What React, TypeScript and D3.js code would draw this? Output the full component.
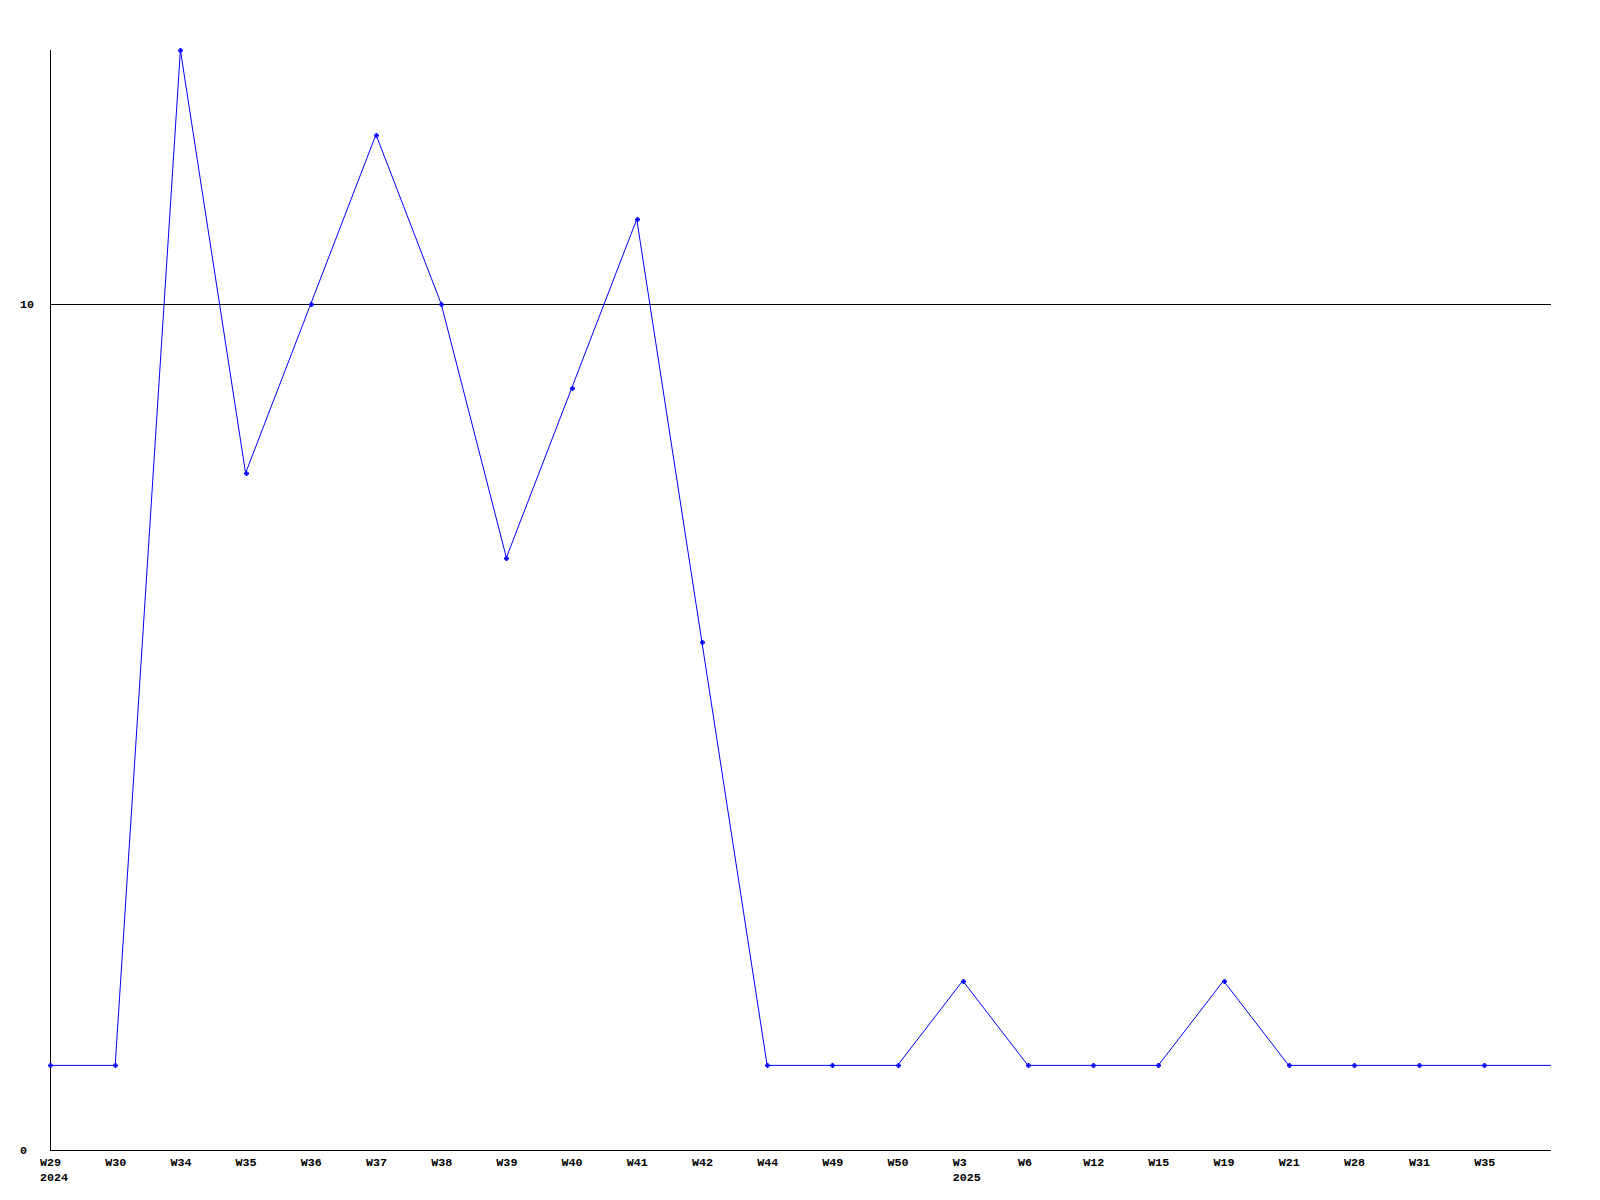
import React from "react";
import * as d3 from "d3";

const weeks = ["W29","W30","W34","W35","W36","W37","W38","W39","W40","W41","W42","W44","W49","W50","W3","W6","W12","W15","W19","W21","W28","W31","W35"];
const years = ["2024","","","","","","","","","","","","","","2025","","","","","","","",""];
const values = [1,1,13,8,10,12,10,7,9,11,6,1,1,1,2,1,1,1,2,1,1,1,1];
const yTicks = [0, 10];

const W = 1600, H = 1200;
const left = 50, right = 1551, top = 50, bottom = 1150;

export default function App() {
  const x = d3.scaleLinear().domain([0, weeks.length - 1]).range([left, 1484.3]);
  const y = d3.scaleLinear().domain([0, 13]).range([bottom, top]);
  const pts: [number, number][] = values.map((v, i) => [x(i), y(v)]);
  const line = d3.line()(pts.concat([[right, y(values[values.length - 1])]]));
  const font = { fontFamily: "'Liberation Mono', 'DejaVu Sans Mono', monospace", fontWeight: "bold", fontSize: 11.7 } as const;
  return (
    <svg width={W} height={H} style={{ position: "absolute", left: 0, top: 0, background: "#fff" }}>
      <rect x={0} y={0} width={W} height={H} fill="#fff" />
      {yTicks.filter(t => t > 0).map(t => (
        <line key={t} x1={left} x2={right} y1={Math.round(y(t)) + 0.5} y2={Math.round(y(t)) + 0.5} stroke="#000" strokeWidth={1} />
      ))}
      <line x1={left + 0.5} x2={left + 0.5} y1={top} y2={bottom + 0.5} stroke="#000" />
      <line x1={left} x2={right} y1={bottom + 0.5} y2={bottom + 0.5} stroke="#000" />
      {yTicks.map(t => (
        <text key={t} x={20} y={Math.round(y(t)) + 4} {...font} fill="#000">{t}</text>
      ))}
      <path d={line || ""} fill="none" stroke="#0000ff" strokeWidth={1} />
      {pts.map(([px, py], i) => (
        <g key={i} fill="#0000ff">
          <rect x={Math.round(px) - 2} y={Math.round(py) - 0.5} width={5} height={2} />
          <rect x={Math.round(px) - 0.5} y={Math.round(py) - 2} width={2} height={5} />
        </g>
      ))}
      {weeks.map((w, i) => (
        <g key={i}>
          <text x={x(i) - 10} y={1166} {...font} fill="#000">{w}</text>
          {years[i] && <text x={x(i) - 10} y={1181} {...font} fill="#000">{years[i]}</text>}
        </g>
      ))}
    </svg>
  );
}
